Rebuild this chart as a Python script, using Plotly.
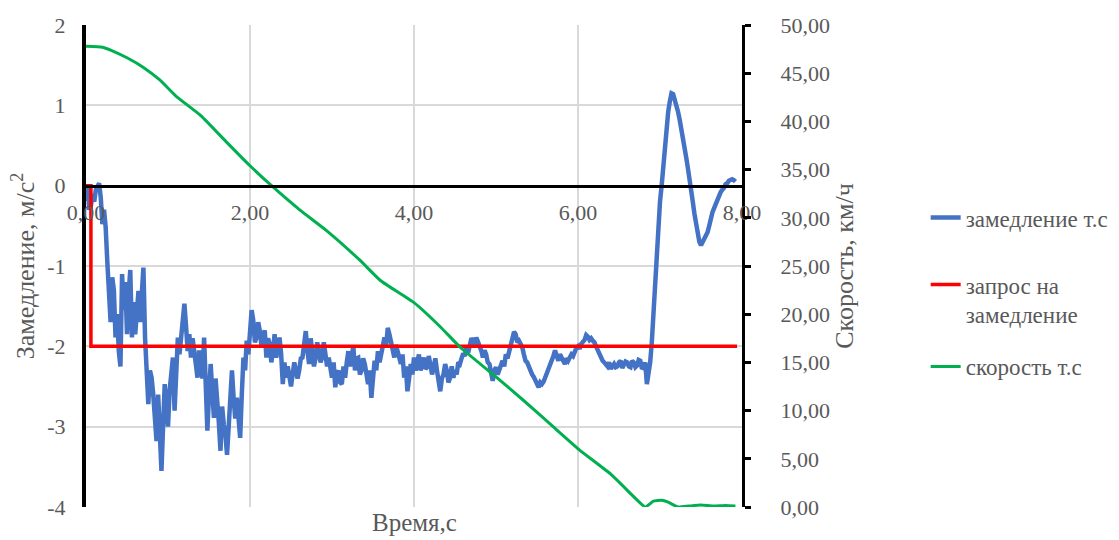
import numpy as np
import plotly.graph_objects as go

# ---- data ----
dt_decel = 0.02
decel_values = [
    -0.19, -0.02, -0.30, -0.25, -0.10, -0.20, -0.05, 0.00, 0.03, -0.15,
    -0.48, -0.30, -0.52, -0.95, -1.50, -1.70, -1.14, -1.30, -1.89, -1.60,
    -2.06, -2.25, -1.10, -1.55, -1.20, -1.85, -1.35, -1.05, -1.89, -1.45,
    -1.85, -1.55, -1.31, -1.70, -1.27, -1.02, -1.89, -2.40, -2.72, -2.30,
    -2.39, -2.60, -2.90, -3.18, -2.60, -3.00, -3.55, -3.00, -2.47, -2.75,
    -3.00, -2.55, -2.30, -2.14, -2.80, -2.40, -1.89, -2.10, -1.89, -1.70,
    -1.47, -1.75, -2.06, -1.85, -2.14, -1.90, -2.06, -2.30, -2.39, -2.05,
    -2.22, -2.40, -1.89, -2.50, -3.05, -2.60, -2.22, -2.55, -2.89, -2.40,
    -2.64, -2.95, -3.30, -2.75, -2.97, -3.10, -3.35, -2.90, -2.60, -2.30,
    -2.64, -2.90, -2.64, -2.85, -3.14, -2.60, -2.14, -2.30, -1.93, -2.10,
    -1.89, -1.55, -1.68, -1.95, -1.89, -1.70, -1.81, -2.00, -1.89, -1.80,
    -2.14, -1.90, -1.97, -2.20, -2.06, -1.85, -2.14, -2.00, -1.89, -2.10,
    -2.47, -2.20, -2.39, -2.25, -2.39, -2.50, -2.35, -2.20, -2.30, -2.40,
    -2.30, -2.15, -2.14, -1.95, -1.81, -2.05, -2.22, -1.90, -2.06, -2.25,
    -2.14, -1.95, -2.06, -2.20, -2.14, -1.95, -2.10, -2.25, -2.14, -2.25,
    -2.39, -2.20, -2.51, -2.35, -2.30, -2.45, -2.47, -2.25, -2.39, -2.20,
    -2.06, -2.25, -2.14, -2.00, -2.30, -2.15, -2.14, -2.35, -2.30, -2.15,
    -2.22, -2.35, -2.47, -2.30, -2.64, -2.40, -2.18, -2.30, -2.06, -2.20,
    -2.10, -1.95, -1.89, -2.00, -1.77, -1.85, -1.93, -2.05, -2.14, -1.98,
    -2.06, -2.18, -2.22, -2.10, -2.39, -2.25, -2.56, -2.40, -2.22, -2.35,
    -2.14, -2.30, -2.22, -2.10, -2.30, -2.18, -2.14, -2.28, -2.26, -2.12,
    -2.22, -2.35, -2.26, -2.15, -2.30, -2.45, -2.56, -2.40, -2.35, -2.22,
    -2.30, -2.45, -2.39, -2.25, -2.39, -2.30, -2.35, -2.20, -2.22, -2.15,
    -2.09, -2.12, -2.01, -2.08, -1.97, -1.90, -1.93, -2.00, -1.89, -1.95,
    -1.97, -2.05, -2.14, -2.05, -2.10, -2.20, -2.22, -2.35, -2.43, -2.30,
    -2.26, -2.35, -2.30, -2.22, -2.18, -2.25, -2.10, -2.15, -2.05, -1.98,
    -1.89, -1.82, -1.85, -1.95, -1.93, -1.98, -2.01, -2.10, -2.18, -2.20,
    -2.26, -2.32, -2.35, -2.38, -2.43, -2.48, -2.51, -2.45, -2.47, -2.44,
    -2.39, -2.35, -2.30, -2.25, -2.18, -2.12, -2.05, -2.12, -2.18, -2.10,
    -2.14, -2.20, -2.22, -2.15, -2.18, -2.14, -2.10, -2.12, -2.05, -2.02,
    -2.00, -2.03, -1.97, -1.94, -1.92, -1.86, -1.88, -1.92, -1.90, -1.93,
    -1.95, -2.00, -2.05, -2.10, -2.15, -2.18, -2.20, -2.24, -2.25, -2.20,
    -2.28, -2.25, -2.22, -2.26, -2.25, -2.20, -2.18, -2.27, -2.24, -2.19,
    -2.20, -2.25, -2.26, -2.18, -2.20, -2.26, -2.24, -2.17, -2.18, -2.28,
    -2.26, -2.20, -2.47, -2.35, -2.20, -1.95, -1.60, -1.20, -0.80, -0.50,
    -0.20, 0.00, 0.25, 0.50, 0.75, 0.92, 1.05, 1.15, 1.14, 1.08,
    1.00, 0.92, 0.82, 0.72, 0.60, 0.48, 0.35, 0.22, 0.10, -0.05,
    -0.20, -0.35, -0.50, -0.62, -0.70, -0.74, -0.68, -0.66, -0.62, -0.58,
    -0.50, -0.40, -0.33, -0.28, -0.22, -0.17, -0.14, -0.08, -0.05, -0.03,
    0.02, 0.03, 0.06, 0.07, 0.08, 0.07, 0.05,
]
decel_time = np.arange(len(decel_values)) * dt_decel

request_time = [0.0, 0.06, 0.06, 7.94]
request_values = [0.0, 0.0, -2.0, -2.0]

speed_time = [0.00, 0.20, 0.30, 0.50, 0.70, 0.90, 1.10, 1.40, 1.72, 2.00,
              2.28, 2.61, 2.93, 3.34, 3.59, 4.00, 4.32, 4.56, 5.00, 5.33,
              5.70, 6.02, 6.40, 6.70, 6.82, 6.92, 7.02, 7.10, 7.22, 7.35,
              7.50, 7.65, 7.80, 7.92]
speed_values = [47.8, 47.7, 47.4, 46.6, 45.6, 44.3, 42.6, 40.6, 37.8, 35.4,
                33.2, 30.8, 28.7, 25.6, 23.5, 21.2, 18.7, 16.6, 13.5, 11.1,
                8.3, 5.9, 3.4, 0.9, 0.0, 0.6, 0.7, 0.5, 0.0, 0.1,
                0.2, 0.1, 0.15, 0.1]

left_ticks = [-4, -3, -2, -1, 0, 1, 2]
left_ticktext = ["-4", "-3", "-2", "-1", "0", "1", "2"]

names = ["замедление т.с", "запрос на<br>замедление", "скорость т.с"]
colors = ["#4472C4", "#FF0000", "#00B050"]

FONT = "Liberation Serif, Times New Roman, serif"
TXT = "#595959"

fig = go.Figure()
fig.add_trace(go.Scatter(x=decel_time, y=decel_values, mode="lines", name=names[0],
                         line=dict(color=colors[0], width=4.5), legend="legend"))
fig.add_trace(go.Scatter(x=request_time, y=request_values, mode="lines", name=names[1],
                         line=dict(color=colors[1], width=3.5), legend="legend2"))
fig.add_trace(go.Scatter(x=speed_time, y=speed_values, mode="lines", name=names[2],
                         line=dict(color=colors[2], width=3, shape="spline", smoothing=0.4),
                         yaxis="y2", legend="legend3"))

leg_common = dict(x=1.28, xanchor="left", yanchor="top", valign="top",
                  font=dict(family=FONT, size=23, color=TXT), bgcolor="rgba(0,0,0,0)")

fig.update_layout(
    width=1119, height=540,
    margin=dict(l=86, r=377, t=25, b=33, autoexpand=False),
    paper_bgcolor="white", plot_bgcolor="white",
    separators=", ",
    font=dict(family=FONT, size=22, color=TXT),
    showlegend=True,
    legend=dict(y=0.645, **leg_common),
    legend2=dict(y=0.506, **leg_common),
    legend3=dict(y=0.336, **leg_common),
    xaxis=dict(range=[0, 8], dtick=2, tickformat=".2f", anchor="free", position=2 / 3,
               showline=True, linecolor="black", linewidth=3, automargin=False,
               showgrid=True, gridcolor="#d9d9d9", gridwidth=1.5,
               zeroline=False, ticks="", ticklabelstandoff=6,
               tickfont=dict(family=FONT, size=22, color=TXT)),
    yaxis=dict(range=[-4, 2], tickvals=left_ticks, ticktext=left_ticktext,
               showline=True, linecolor="black", linewidth=4, automargin=False,
               showgrid=True, gridcolor="#d9d9d9", gridwidth=1.5, zeroline=False, ticks="",
               ticklabelstandoff=12,
               tickfont=dict(family=FONT, size=22, color=TXT),
               title=dict(text="Замедление, м/с<sup>2</sup>", font=dict(family=FONT, size=26, color=TXT),
                          standoff=6)),
    yaxis2=dict(range=[0, 50], dtick=5, tickformat=".2f", overlaying="y", side="right",
                showline=True, linecolor="black", linewidth=3, showgrid=False, zeroline=False,
                automargin=False,
                ticks="outside", ticklen=6, tickwidth=3, tickcolor="black", ticklabelstandoff=25,
                tickfont=dict(family=FONT, size=22, color=TXT),
                title=dict(text="Скорость, км/ч", font=dict(family=FONT, size=26, color=TXT),
                           standoff=2)),
    annotations=[dict(text="Время,с", x=0.5, y=-0.033, xref="paper", yref="paper",
                      xanchor="center", yanchor="middle", showarrow=False,
                      font=dict(family=FONT, size=25, color=TXT))],
)

fig.write_html("out.html")
